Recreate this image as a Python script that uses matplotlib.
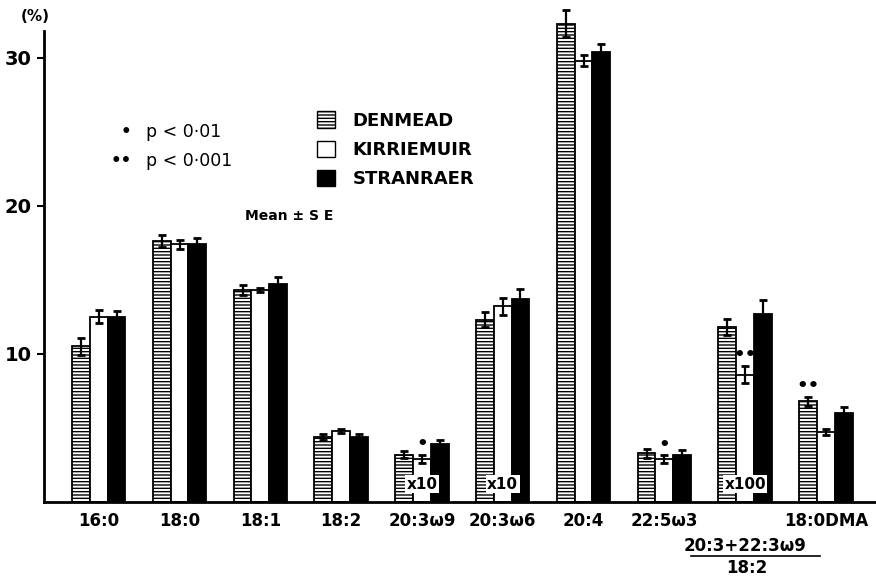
import matplotlib
matplotlib.use('Agg')
import matplotlib.pyplot as plt
import numpy as np
from matplotlib.patches import Patch

plt.rcParams['font.family'] = ['DejaVu Sans']
plt.rcParams['font.weight'] = 'bold'
plt.rcParams['hatch.linewidth'] = 1.0

# fatty acids (x10 / x100 scaled groups noted below)
acids = ['16:0', '18:0', '18:1', '18:2', '20:3ω9', '20:3ω6', '20:4', '22:5ω3', '', '18:0DMA']
denmead = [10.5, 17.6, 14.3, 4.4, 3.2, 12.3, 32.3, 3.3, 11.8, 6.8]
denmead_se = [0.6, 0.4, 0.35, 0.2, 0.25, 0.5, 0.9, 0.3, 0.55, 0.3]
kirriemuir = [12.5, 17.4, 14.3, 4.8, 2.9, 13.2, 29.8, 2.9, 8.6, 4.7]
kirriemuir_se = [0.45, 0.3, 0.15, 0.15, 0.3, 0.6, 0.35, 0.25, 0.6, 0.2]
stranraer = [12.5, 17.4, 14.7, 4.4, 3.9, 13.7, 30.4, 3.2, 12.7, 6.0]
stranraer_se = [0.4, 0.4, 0.5, 0.2, 0.3, 0.7, 0.55, 0.3, 0.95, 0.4]
scale_labels = {4: 'x10', 5: 'x10', 8: 'x100'}
# significance marks: (group, series index, mark)
signif = [(4, 1, '•'), (7, 1, '•'), (8, 1, '••'), (9, 0, '••')]

fig = plt.figure(figsize=(8.76, 5.77), dpi=100)
ax = fig.add_axes([0.050, 0.130, 0.950, 0.860])

x = np.arange(len(acids))
w = 0.22
series = [(denmead, denmead_se, 'white', '-----'),
          (kirriemuir, kirriemuir_se, 'white', None),
          (stranraer, stranraer_se, 'black', None)]
for i, (vals, se, col, hatch) in enumerate(series):
    ax.bar(x + (i - 1) * w, vals, w, color=col, edgecolor='black', linewidth=1.3,
           hatch=hatch, zorder=2)
    ax.errorbar(x + (i - 1) * w, vals, yerr=se, fmt='none', ecolor='black',
                elinewidth=1.6, capsize=3, capthick=2, zorder=3)

for g, s, mark in signif:
    vals, se = series[s][0], series[s][1]
    ax.text(x[g] + (s - 1) * w, vals[g] + se[g] + 0.1, mark, ha='center', va='bottom',
            fontsize=13, zorder=4)

for g, lab in scale_labels.items():
    ax.text(x[g], 1.2, lab, ha='center', va='center', fontsize=11, zorder=5,
            bbox=dict(facecolor='white', edgecolor='none', pad=1))

ax.set_xlim(-0.68, 9.62)
ax.set_ylim(0, 33.5)
ax.set_xticks(x)
ax.set_xticklabels(acids, fontsize=12)
ax.tick_params(axis='x', length=0, pad=7)
ax.set_yticks([10, 20, 30])
ax.set_yticklabels(['10', '20', '30'], fontsize=14)
ax.tick_params(axis='y', direction='out', length=5, width=1.5)
ax.spines['top'].set_visible(False)
ax.spines['right'].set_visible(False)
ax.spines['left'].set_bounds(0, 31.8)
ax.spines['left'].set_linewidth(2)
ax.spines['bottom'].set_linewidth(2)

ax.text(-0.78, 32.3, '(%)', ha='center', va='bottom', fontsize=11)

# ratio label under group 8
ax.text(x[8], -0.088, '20:3+22:3ω9', transform=ax.get_xaxis_transform(),
        ha='center', va='center', fontsize=12)
ax.plot([x[8] - 0.67, x[8] + 0.93], [-0.108, -0.108], transform=ax.get_xaxis_transform(),
        color='black', linewidth=1.2, clip_on=False)
ax.text(x[8] + 0.02, -0.134, '18:2', transform=ax.get_xaxis_transform(),
        ha='center', va='center', fontsize=12)

ax.text(0.34, 25.0, '•', ha='center', va='center', fontsize=12)
ax.text(0.58, 25.0, 'p < 0·01', ha='left', va='center', fontsize=12.5, fontweight='normal')
ax.text(0.28, 23.0, '••', ha='center', va='center', fontsize=12)
ax.text(0.58, 23.0, 'p < 0·001', ha='left', va='center', fontsize=12.5, fontweight='normal')
ax.text(1.81, 19.3, 'Mean ± S E', ha='left', va='center', fontsize=10)

handles = [Patch(facecolor='white', edgecolor='black', hatch='-----', label='DENMEAD'),
           Patch(facecolor='white', edgecolor='black', label='KIRRIEMUIR'),
           Patch(facecolor='black', edgecolor='black', label='STRANRAER')]
fig.legend(handles=handles, loc='upper left', bbox_to_anchor=(0.343, 0.835),
           frameon=False, handlelength=1.0, handleheight=1.0, labelspacing=0.6,
           handletextpad=1.0, prop={'weight': 'bold', 'size': 13})

fig.savefig('out.png', dpi=100)
